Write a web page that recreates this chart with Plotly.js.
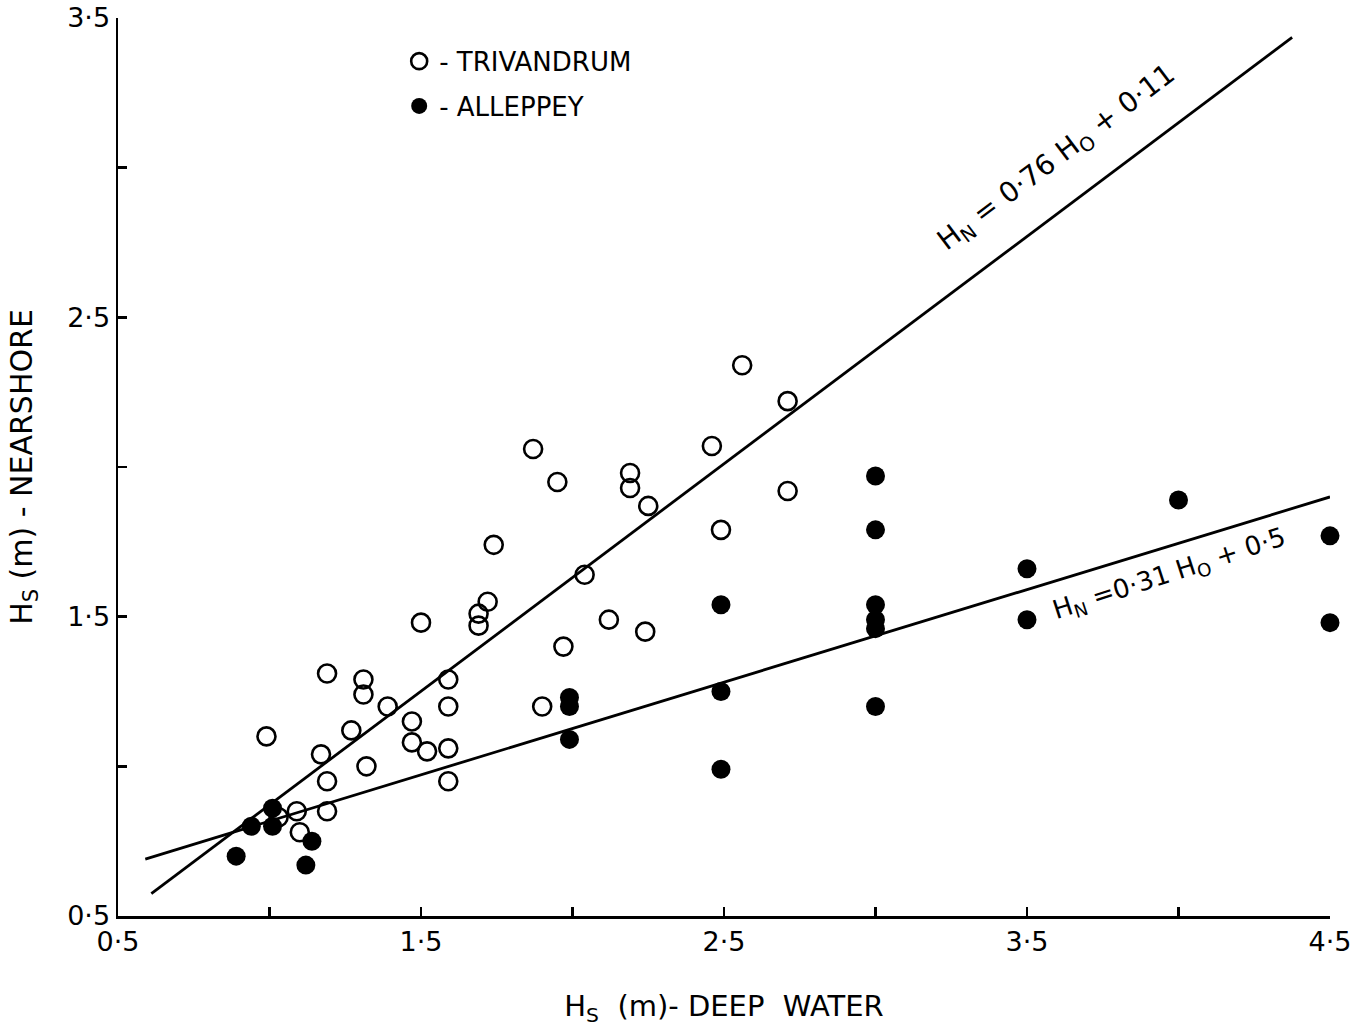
<!DOCTYPE html>
<html>
<head>
<meta charset="utf-8">
<script src="https://cdn.plot.ly/plotly-3.0.1.min.js"></script>
<style>html,body{margin:0;padding:0;background:#fff;}#chart{width:1368px;height:1032px;}</style>
</head>
<body>
<div id="chart"></div>
<script>
// Trivandrum (open circles): deep-water Hs vs nearshore Hs
const trivandrumX = [0.99,1.03,1.09,1.10,1.17,1.19,1.19,1.19,1.27,1.31,1.31,1.32,1.39,1.47,1.47,1.50,1.52,1.59,1.59,1.59,1.59,1.69,1.69,1.72,1.74,1.87,1.90,1.95,1.97,2.04,2.12,2.19,2.19,2.24,2.25,2.46,2.49,2.56,2.71,2.71];
const trivandrumY = [1.10,0.83,0.85,0.78,1.04,0.95,0.85,1.31,1.12,1.29,1.24,1.00,1.20,1.15,1.08,1.48,1.05,1.29,1.20,1.06,0.95,1.47,1.51,1.55,1.74,2.06,1.20,1.95,1.40,1.64,1.49,1.98,1.93,1.45,1.87,2.07,1.79,2.34,1.92,2.22];
// Alleppey (filled circles)
const alleppeyX = [0.89,0.94,1.01,1.01,1.12,1.14,1.99,1.99,1.99,2.49,2.49,2.49,3.0,3.0,3.0,3.0,3.0,3.0,3.5,3.5,4.0,4.5,4.5];
const alleppeyY = [0.70,0.80,0.80,0.86,0.67,0.75,1.23,1.20,1.09,1.54,1.25,0.99,1.97,1.79,1.54,1.49,1.46,1.20,1.66,1.49,1.89,1.77,1.48];
// Fitted lines (end points)
const fitTrivX = [0.61, 4.375];
const fitTrivY = [0.575, 3.435];
const fitAllX = [0.59, 4.5];
const fitAllY = [0.69, 1.90];
// Axis ticks (labelled) and unlabelled minor ticks
const xTickVals = [0.5,1.5,2.5,3.5,4.5];
const xTickText = ["0·5","1·5","2·5","3·5","4·5"];
const xMinorVals = [1.0,2.0,3.0,4.0];
const yTickVals = [0.5,1.5,2.5,3.5];
const yTickText = ["0·5","1·5","2·5","3·5"];
const yMinorVals = [1.0,2.0,3.0];

const FONT = "DejaVu Sans, Liberation Sans, sans-serif";

const traces = [
  {x: fitTrivX, y: fitTrivY, mode: "lines", line: {color: "#000", width: 2.8}, showlegend: false, hoverinfo: "skip"},
  {x: fitAllX, y: fitAllY, mode: "lines", line: {color: "#000", width: 2.8}, showlegend: false, hoverinfo: "skip"},
  {x: trivandrumX, y: trivandrumY, mode: "markers", name: "- TRIVANDRUM", cliponaxis: false, legendgroup: "t",
   marker: {symbol: "circle-open", size: 18, color: "#000", line: {color: "#000", width: 2.6}}},
  {x: alleppeyX, y: alleppeyY, mode: "markers", name: "- ALLEPPEY", cliponaxis: false, legendgroup: "a",
   marker: {symbol: "circle", size: 19, color: "#000", line: {width: 0}}}
];

const tickStyle = {ticks: "inside", ticklen: 9, tickwidth: 2.5, tickcolor: "#000"};

const layout = {
  width: 1368, height: 1032,
  paper_bgcolor: "#fff", plot_bgcolor: "#fff",
  margin: {l: 118, r: 38, t: 18, b: 116},
  font: {family: FONT, color: "#000", size: 24},
  showlegend: true,
  legend: {x: 0.232, y: 0.978, xanchor: "left", yanchor: "top", bgcolor: "rgba(0,0,0,0)",
           font: {family: FONT, size: 26, color: "#000"}, itemwidth: 30,
           traceorder: "grouped", tracegroupgap: 8},
  xaxis: Object.assign({
    range: [0.5, 4.5], showgrid: false, zeroline: false,
    showline: true, linecolor: "#000", linewidth: 2.5,
    tickmode: "array", tickvals: xTickVals, ticktext: xTickText,
    minor: Object.assign({tickmode: "array", tickvals: xMinorVals, showgrid: false}, tickStyle),
    tickfont: {family: FONT, size: 27, color: "#000"},
    title: {text: "H<sub>S</sub>\u00a0 (m)- DEEP\u00a0 WATER",
            font: {family: FONT, size: 29, color: "#000"}, standoff: 40}
  }, tickStyle),
  yaxis: Object.assign({
    range: [0.5, 3.5], showgrid: false, zeroline: false,
    showline: true, linecolor: "#000", linewidth: 2.5,
    tickmode: "array", tickvals: yTickVals, ticktext: yTickText,
    minor: Object.assign({tickmode: "array", tickvals: yMinorVals, showgrid: false}, tickStyle),
    tickfont: {family: FONT, size: 27, color: "#000"},
    title: {text: "H<sub>S</sub> (m) - NEARSHORE",
            font: {family: FONT, size: 30, color: "#000"}, standoff: 26}
  }, tickStyle),
  annotations: [
    {x: 3.6, y: 3.03, xref: "x", yref: "y", text: "H<sub>N</sub> = 0·76 H<sub>O</sub> + 0·11",
     showarrow: false, textangle: -37, font: {family: FONT, size: 28, color: "#000"}},
    {x: 3.97, y: 1.64, xref: "x", yref: "y", text: "H<sub>N</sub> =0·31 H<sub>O</sub> + 0·5",
     showarrow: false, textangle: -18, font: {family: FONT, size: 26, color: "#000"}}
  ]
};

Plotly.newPlot("chart", traces, layout, {displayModeBar: false, staticPlot: true});
</script>
</body>
</html>
